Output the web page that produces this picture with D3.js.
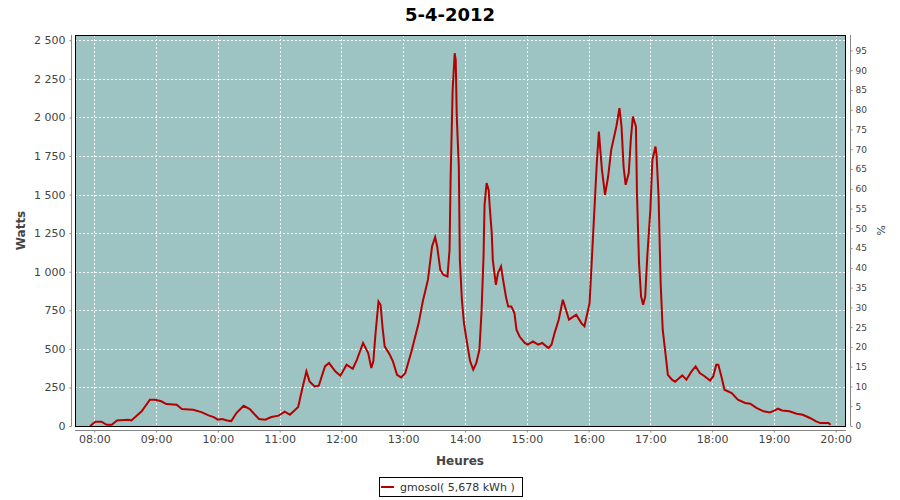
<!DOCTYPE html>
<html><head><meta charset="utf-8">
<script src="https://cdn.jsdelivr.net/npm/d3@7/dist/d3.min.js"></script>
<style>body{margin:0;background:#fff}svg{display:block}</style>
</head><body>
<svg id="chart" width="900" height="500"></svg>
<script>
const times = ["07:56","08:01","08:07","08:12","08:17","08:22","08:33","08:36","08:46","08:54","08:59","09:05","09:10","09:20","09:25","09:36","09:44","09:51","09:56","10:00","10:04","10:09","10:13","10:18","10:25","10:31","10:36","10:40","10:46","10:52","10:59","11:05","11:10","11:18","11:21","11:26","11:29","11:34","11:38","11:44","11:48","11:54","11:59","12:05","12:11","12:15","12:21","12:26","12:29","12:31","12:33","12:36","12:38","12:40","12:42","12:47","12:50","12:54","12:58","13:02","13:08","13:15","13:19","13:24","13:28","13:31","13:33","13:36","13:39","13:43","13:45","13:46","13:48","13:50","13:51","13:52","13:54","13:55","13:57","13:59","14:02","14:05","14:08","14:11","14:14","14:16","14:18","14:19","14:21","14:23","14:24","14:26","14:27","14:30","14:32","14:35","14:37","14:40","14:42","14:45","14:48","14:50","14:53","14:58","15:01","15:06","15:11","15:15","15:21","15:24","15:27","15:31","15:35","15:37","15:41","15:48","15:53","15:56","16:01","16:03","16:05","16:08","16:10","16:13","16:16","16:19","16:22","16:27","16:30","16:32","16:34","16:36","16:39","16:41","16:43","16:46","16:47","16:49","16:51","16:53","16:55","16:57","17:00","17:02","17:05","17:06","17:08","17:10","17:12","17:15","17:17","17:21","17:24","17:27","17:31","17:35","17:40","17:44","17:48","17:53","17:58","18:01","18:04","18:06","18:09","18:12","18:19","18:25","18:32","18:37","18:43","18:50","18:56","19:01","19:04","19:08","19:15","19:22","19:28","19:35","19:41","19:45","19:53","19:55"];
const watts = [0,28,28,8,8,36,41,36,95,170,170,160,142,138,110,105,90,69,58,41,45,36,32,84,131,110,73,45,41,58,67,93,73,123,214,354,289,256,261,386,408,354,326,397,371,429,538,473,376,419,591,807,786,635,516,462,419,332,315,343,483,667,807,947,1163,1224,1163,1012,980,969,1142,1595,2178,2416,2372,2005,1681,1077,818,667,538,419,365,408,494,732,1098,1433,1574,1530,1422,1250,1077,915,991,1034,947,829,775,775,732,624,580,538,527,548,527,538,505,527,602,689,818,775,689,721,667,646,797,1056,1315,1703,1908,1660,1498,1617,1790,1941,2060,1941,1681,1563,1638,1854,2005,1941,1509,1056,839,786,839,1098,1401,1725,1811,1757,1487,926,624,451,332,300,287,304,328,300,354,386,343,321,295,321,397,397,321,235,214,170,149,144,117,95,88,101,112,101,95,80,73,52,30,19,19,8];
const xTickLabels = ["08:00","09:00","10:00","11:00","12:00","13:00","14:00","15:00","16:00","17:00","18:00","19:00","20:00"];
const yTicks = [0,250,500,750,1000,1250,1500,1750,2000,2250,2500];
const pctTicks = [0,5,10,15,20,25,30,35,40,45,50,55,60,65,70,75,80,85,90,95];
const title = "5-4-2012";
const seriesName = "gmosol( 5,678 kWh )";

const parse = s => { const [h,m] = s.split(":").map(Number); return new Date(2012,3,5,h,m); };
const data = times.map((t,i) => ({t: parse(t), w: watts[i]}));

const svg = d3.select("#chart");
const L = 75, R = 846, T = 35, B = 426;
const font = "DejaVu Sans, sans-serif";

const x = d3.scaleTime().domain([new Date(2012,3,5,7,41,16), new Date(2012,3,5,20,10,0)]).range([L, R]);
const y = d3.scaleLinear().domain([0, 2534]).range([B, T]);
const yp = d3.scaleLinear().domain([0, 98.9]).range([B, T]);

const loc = d3.formatLocale({decimal:",", thousands:" ", grouping:[3], currency:["",""]});
const fmt = loc.format(",d");

// plot background
svg.append("rect").attr("x", L).attr("y", T).attr("width", R-L).attr("height", B-T).attr("fill", "#9dc3c2");

// grid lines
const xTicks = xTickLabels.map(parse);
svg.append("g").selectAll("line").data(xTicks).join("line")
  .attr("x1", d => Math.round(x(d))+0.5).attr("x2", d => Math.round(x(d))+0.5)
  .attr("y1", T).attr("y2", B)
  .attr("stroke", "#fff").attr("stroke-width", 1).attr("stroke-dasharray", "2,2");
svg.append("g").selectAll("line").data(yTicks).join("line")
  .attr("x1", L).attr("x2", R)
  .attr("y1", d => Math.round(y(d))+0.5).attr("y2", d => Math.round(y(d))+0.5)
  .attr("stroke", "#fff").attr("stroke-width", 1).attr("stroke-dasharray", "2,2");

// series line
const line = d3.line().x(d => x(d.t)).y(d => y(d.w));
svg.append("path").datum(data).attr("d", line)
  .attr("fill", "none").attr("stroke", "#b50000").attr("stroke-width", 2).attr("stroke-linejoin", "miter");

// plot border
svg.append("rect").attr("x", L+0.5).attr("y", T+0.5).attr("width", R-L-1).attr("height", B-T)
  .attr("fill", "none").attr("stroke", "#000").attr("stroke-width", 1);

// left axis
const gl = svg.append("g").attr("transform", "translate(71.5,0)")
  .call(d3.axisLeft(y).tickValues(yTicks).tickFormat(fmt).tickSize(2).tickPadding(4).tickSizeOuter(0));
// bottom axis
const gb = svg.append("g").attr("transform", `translate(0,${B+4.5})`)
  .call(d3.axisBottom(x).tickValues(xTicks).tickFormat(d3.timeFormat("%H:%M")).tickSize(2).tickPadding(3).tickSizeOuter(0));
// right axis
const gr = svg.append("g").attr("transform", "translate(850.5,0)")
  .call(d3.axisRight(yp).tickValues(pctTicks).tickSize(2).tickPadding(3).tickSizeOuter(0));

[gl, gb, gr].forEach(g => {
  g.select(".domain").attr("stroke", "#888");
  g.selectAll(".tick line").attr("stroke", "#888");
  g.selectAll(".tick text").attr("fill", "#444").attr("font-family", font).attr("font-size", 11);
});
gr.selectAll(".tick text").attr("font-size", 9);
gl.select(".domain").attr("d", `M0,${T}V${B}`);
gr.select(".domain").attr("d", `M0,${T}V${B}`);
gb.select(".domain").attr("d", `M${L},0H${R}`);

// title
svg.append("text").attr("x", 450).attr("y", 21).attr("text-anchor", "middle")
  .attr("font-family", font).attr("font-weight", "bold").attr("font-size", 18).attr("fill", "#000").text(title);

// axis labels
svg.append("text").attr("transform", `translate(25,${(T+B)/2}) rotate(-90)`).attr("text-anchor", "middle")
  .attr("font-family", font).attr("font-weight", "bold").attr("font-size", 12).attr("fill", "#444").text("Watts");
svg.append("text").attr("x", 460).attr("y", 465).attr("text-anchor", "middle")
  .attr("font-family", font).attr("font-weight", "bold").attr("font-size", 12).attr("fill", "#444").text("Heures");
svg.append("text").attr("transform", `translate(877,${(T+B)/2}) rotate(90)`).attr("text-anchor", "middle")
  .attr("font-family", font).attr("font-size", 11).attr("fill", "#444").text("%");

// legend
svg.append("rect").attr("x", 379.5).attr("y", 477.5).attr("width", 143).attr("height", 19)
  .attr("fill", "#fff").attr("stroke", "#000").attr("stroke-width", 1);
svg.append("line").attr("x1", 381).attr("x2", 394).attr("y1", 487).attr("y2", 487)
  .attr("stroke", "#b50000").attr("stroke-width", 2);
svg.append("text").attr("x", 400).attr("y", 491)
  .attr("font-family", font).attr("font-size", 11).attr("fill", "#333").text(seriesName);
</script>
</body></html>
